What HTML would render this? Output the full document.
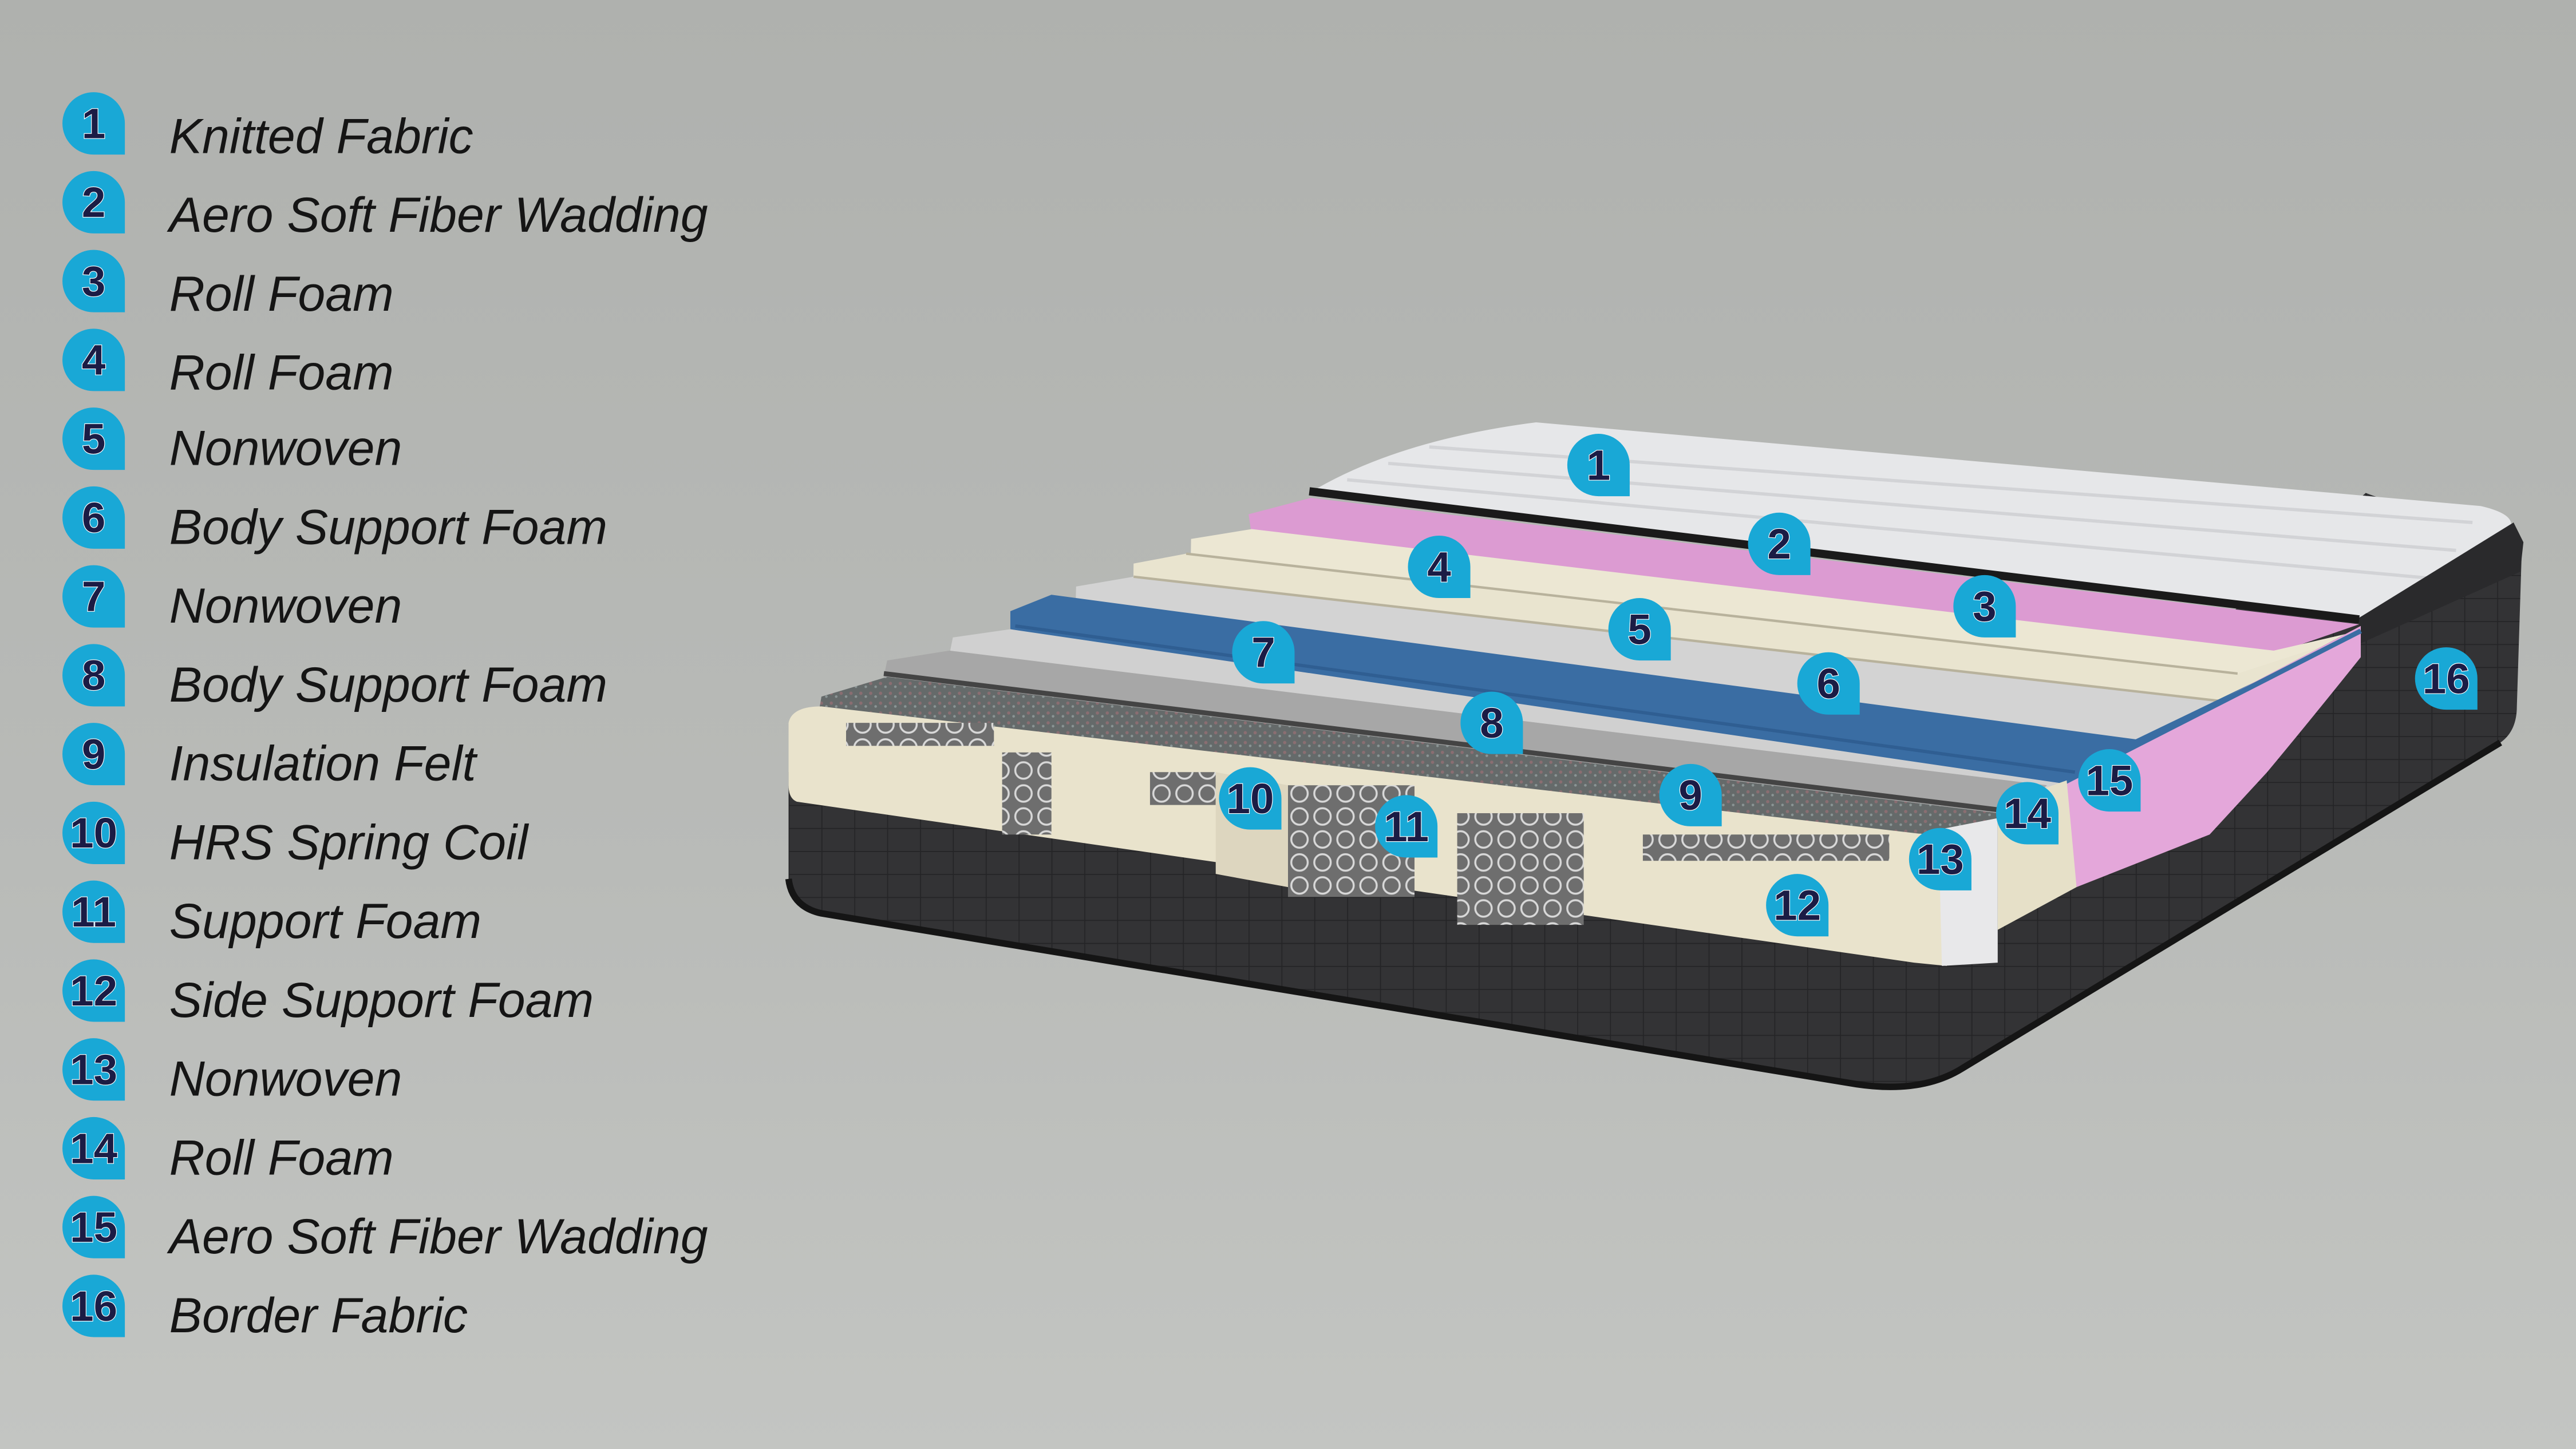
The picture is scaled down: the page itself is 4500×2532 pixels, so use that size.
<!DOCTYPE html>
<html><head><meta charset="utf-8"><style>
html,body{margin:0;padding:0;}
body{width:4500px;height:2532px;overflow:hidden;background:linear-gradient(#afb1ae,#b9bbb8 60%,#c3c5c2);}
svg{display:block}
.lg{font-family:"Liberation Sans",sans-serif;font-style:italic;font-size:30px;fill:#151515;}
.n{font-family:"Liberation Sans",sans-serif;font-weight:bold;font-size:26px;fill:#1b1c45;stroke:#fff;stroke-width:0.8;text-anchor:middle;paint-order:stroke;}
</style></head><body>
<svg width="4500" height="2532" viewBox="0 0 1568 882" xmlns="http://www.w3.org/2000/svg">
<defs>
<path id="b" d="M-19,0 A19,19 0 0 1 0,-19 A19,19 0 0 1 19,0 L19,19 L0,19 A19,19 0 0 1 -19,0 Z" fill="#19a8d6"/>
<pattern id="coil" width="14" height="14" patternUnits="userSpaceOnUse"><rect width="14" height="14" fill="#6e6e6e"/><circle cx="7" cy="7" r="5" fill="none" stroke="#d8d8d8" stroke-width="1.2"/></pattern>
<pattern id="quilt" width="20" height="14" patternUnits="userSpaceOnUse"><rect width="20" height="14" fill="#333335"/><path d="M0,0H20M0,0V14" stroke="#242426" stroke-width="1.2"/></pattern>
<pattern id="felt" width="6" height="6" patternUnits="userSpaceOnUse"><rect width="6" height="6" fill="#656a6a"/><circle cx="2" cy="2" r="1" fill="#8a6e72"/><circle cx="5" cy="4" r="0.8" fill="#8a9494"/></pattern>
<clipPath id="cl"><path d="M0,0 L1437,0 L1437,381 L1255,477 L1255,900 L0,900 Z"/></clipPath>
</defs>

<!-- dark body -->
<path d="M480,470 L480,535 Q482,552 500,556 L1130,660 Q1170,666 1195,650 L1522,452 Q1532,445 1532,430 L1535,335 L1440,300 L1250,470 Z" fill="url(#quilt)"/>
<path d="M480,535 Q482,552 500,556 L1130,660 Q1170,666 1195,650 L1522,452" fill="none" stroke="#151515" stroke-width="4"/>
<!-- top white quilted -->
<path d="M797,300 Q850,268 935,257 L1510,308 Q1532,313 1528,322 L1436,376 Z" fill="#e6e7e9"/>
<path d="M870,272 L1505,318 M845,282 L1495,335 M820,292 L1480,352" stroke="#d2d3d6" stroke-width="2" fill="none"/>
<path d="M1530,318 L1536,330 L1534,348 L1436,392 L1436,376 Z" fill="#2a2a2c"/>
<path d="M797,299 L1436,377" stroke="#1a1a1a" stroke-width="5"/>

<g clip-path="url(#cl)">
<!-- pink 2 -->
<path d="M760,313 L798,303 L1436,380 L1384,398 L762,326 Z" fill="#dc9bd2"/>
<!-- cream 4 -->
<path d="M725,328 L762,322 L1384,396 L1436,384 L1436,500 L722,500 Z" fill="#ece7d3"/>
<!-- cream 5 -->
<path d="M690,343 L722,337 L1362,410 L1436,386 L1436,500 L688,500 Z" fill="#e9e4cf"/>
<path d="M722,337 L1362,410" stroke="#b8b29c" stroke-width="1.5"/>
<!-- gray 6 -->
<path d="M655,357 L690,351 L1354,427 L1436,388 L1436,500 L652,500 Z" fill="#d3d3d3"/>
<path d="M690,351 L1354,427" stroke="#b8b29c" stroke-width="1.5"/>
<!-- blue 7 -->
<path d="M615,372 L640,362 L1300,450 L1437,384 L1437,500 L1263,478 L615,388 Z" fill="#3a6da3"/>
<path d="M618,381 L1263,470" stroke="#2f5e92" stroke-width="2"/>
<!-- light gray 8 -->
<path d="M580,388 L615,383 L1263,478 L1246,486 L578,398 Z" fill="#d0d0d0"/>
<!-- darker gray -->
<path d="M540,402 L578,396 L1246,478 L1225,496 L538,412 Z" fill="#a7a7a7"/>
<path d="M538,410 L1225,494" stroke="#444" stroke-width="3"/>
<!-- felt 9 -->
<path d="M500,424 L540,412 L1225,496 L1190,512 L498,436 Z" fill="url(#felt)"/>
</g>
<!-- pink 15 -->
<path d="M1255,477 L1437,381 L1437,400 Q1405,440 1380,470 L1345,508 L1264,540 Z" fill="#e4a7da"/>
<path d="M1255,477 L1437,384" stroke="#3a6da3" stroke-width="3"/>
<!-- front cream face -->
<path d="M480,440 Q482,430 500,430 L1190,510 L1185,588 L1165,586 L485,488 Q480,486 480,478 Z" fill="#e9e3cc"/>
<!-- coils -->
<rect x="610" y="458" width="30" height="50" fill="url(#coil)"/>
<rect x="784" y="478" width="77" height="68" fill="url(#coil)"/>
<rect x="887" y="495" width="77" height="68" fill="url(#coil)"/>
<rect x="700" y="470" width="40" height="20" fill="url(#coil)"/>
<rect x="515" y="440" width="90" height="14" fill="url(#coil)"/>
<rect x="1000" y="508" width="150" height="16" fill="url(#coil)"/>
<path d="M740,470 L784,478 L784,540 L740,532 Z" fill="#ddd6bf"/>
<!-- 13 & 14 -->
<path d="M1180,505 L1216,498 L1216,586 L1182,588 Z" fill="#e8e8ea"/>
<path d="M1216,490 L1258,475 L1264,540 L1216,566 Z" fill="#e6e0c8"/>

<!-- diagram badges -->
<g>
<use href="#b" x="973" y="283"/><text class="n" x="973" y="292">1</text>
<use href="#b" x="1083" y="331"/><text class="n" x="1083" y="340">2</text>
<use href="#b" x="1208" y="369"/><text class="n" x="1208" y="378">3</text>
<use href="#b" x="876" y="345"/><text class="n" x="876" y="354">4</text>
<use href="#b" x="998" y="383"/><text class="n" x="998" y="392">5</text>
<use href="#b" x="1113" y="416"/><text class="n" x="1113" y="425">6</text>
<use href="#b" x="769" y="397"/><text class="n" x="769" y="406">7</text>
<use href="#b" x="908" y="440"/><text class="n" x="908" y="449">8</text>
<use href="#b" x="1029" y="484"/><text class="n" x="1029" y="493">9</text>
<use href="#b" x="761" y="486"/><text class="n" x="761" y="495">10</text>
<use href="#b" x="856" y="503"/><text class="n" x="856" y="512">11</text>
<use href="#b" x="1094" y="551"/><text class="n" x="1094" y="560">12</text>
<use href="#b" x="1181" y="523"/><text class="n" x="1181" y="532">13</text>
<use href="#b" x="1234" y="495"/><text class="n" x="1234" y="504">14</text>
<use href="#b" x="1284" y="475"/><text class="n" x="1284" y="484">15</text>
<use href="#b" x="1489" y="413"/><text class="n" x="1489" y="422">16</text>
</g>

<!-- legend -->
<g>
<use href="#b" x="57" y="75"/><text class="n" x="57" y="84">1</text><text class="lg" x="103" y="93">Knitted Fabric</text>
<use href="#b" x="57" y="123"/><text class="n" x="57" y="132">2</text><text class="lg" x="103" y="141">Aero Soft Fiber Wadding</text>
<use href="#b" x="57" y="171"/><text class="n" x="57" y="180">3</text><text class="lg" x="103" y="189">Roll Foam</text>
<use href="#b" x="57" y="219"/><text class="n" x="57" y="228">4</text><text class="lg" x="103" y="237">Roll Foam</text>
<use href="#b" x="57" y="267"/><text class="n" x="57" y="276">5</text><text class="lg" x="103" y="283">Nonwoven</text>
<use href="#b" x="57" y="315"/><text class="n" x="57" y="324">6</text><text class="lg" x="103" y="331">Body Support Foam</text>
<use href="#b" x="57" y="363"/><text class="n" x="57" y="372">7</text><text class="lg" x="103" y="379">Nonwoven</text>
<use href="#b" x="57" y="411"/><text class="n" x="57" y="420">8</text><text class="lg" x="103" y="427">Body Support Foam</text>
<use href="#b" x="57" y="459"/><text class="n" x="57" y="468">9</text><text class="lg" x="103" y="475">Insulation Felt</text>
<use href="#b" x="57" y="507"/><text class="n" x="57" y="516">10</text><text class="lg" x="103" y="523">HRS Spring Coil</text>
<use href="#b" x="57" y="555"/><text class="n" x="57" y="564">11</text><text class="lg" x="103" y="571">Support Foam</text>
<use href="#b" x="57" y="603"/><text class="n" x="57" y="612">12</text><text class="lg" x="103" y="619">Side Support Foam</text>
<use href="#b" x="57" y="651"/><text class="n" x="57" y="660">13</text><text class="lg" x="103" y="667">Nonwoven</text>
<use href="#b" x="57" y="699"/><text class="n" x="57" y="708">14</text><text class="lg" x="103" y="715">Roll Foam</text>
<use href="#b" x="57" y="747"/><text class="n" x="57" y="756">15</text><text class="lg" x="103" y="763">Aero Soft Fiber Wadding</text>
<use href="#b" x="57" y="795"/><text class="n" x="57" y="804">16</text><text class="lg" x="103" y="811">Border Fabric</text>
</g>
</svg>
</body></html>
